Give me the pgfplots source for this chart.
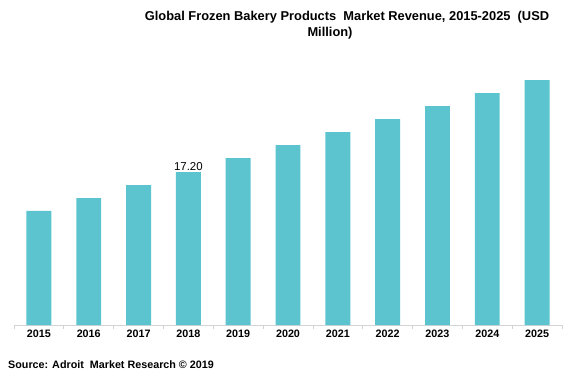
\documentclass[border=0pt]{standalone}
\usepackage{pgfplots}
\pgfplotsset{compat=1.18}
\usepackage{fontspec}
\setmainfont{Liberation Sans}
\definecolor{barc}{RGB}{91,196,207}
\pgfplotstableread{
x year val
0 2015 12.82
1 2016 14.28
2 2017 15.74
3 2018 17.20
4 2019 18.77
5 2020 20.24
6 2021 21.70
7 2022 23.16
8 2023 24.62
9 2024 26.08
10 2025 27.54
}\datatable
\begin{document}
\begin{tikzpicture}
\begin{axis}[
  scale only axis,
  width=548bp, height=265bp,
  xmin=-0.5, xmax=10.5,
  ymin=0, ymax=29.8,
  clip=false,
  axis x line*=bottom,
  axis y line=none,
  x axis line style={draw=black!17, line width=0.8pt, -},
  xtick={0,...,10},
  xticklabels={2015,2016,2017,2018,2019,2020,2021,2022,2023,2024,2025},
  xticklabel style={font=\bfseries\fontsize{10.8}{12}\selectfont, yshift=-1bp},
  major x tick style={draw=none},
  extra x ticks={-0.5,0.5,...,10.5},
  extra x tick labels={},
  extra x tick style={major tick length=4bp, tick align=outside, major x tick style={draw=black!17, line width=0.8pt}},
  ytick=\empty,
]
\addplot[ybar, bar width=0.5, fill=barc, draw=none] table[x=x, y=val] {\datatable};
\node[anchor=south, inner sep=1bp, font=\fontsize{11.5}{13}\selectfont] at (axis cs:3,17.2) {17.20};
\node[align=center, font=\bfseries\fontsize{12.9}{16}\selectfont] at (rel axis cs:0.6077,1.132)
  {Global Frozen Bakery Products\ \ Market Revenue, 2015-2025\ \ (USD\\Million)\hspace*{34bp}};
\node[anchor=west, inner sep=0pt, font=\bfseries\fontsize{10.8}{12}\selectfont] at (rel axis cs:-0.01095,-0.151)
  {Source: Adroit\ \ Market Research \textcopyright\ 2019};
\path (rel axis cs:-0.02555,-0.2113) rectangle (rel axis cs:1.02555,1.2264);
\end{axis}
\end{tikzpicture}
\end{document}
